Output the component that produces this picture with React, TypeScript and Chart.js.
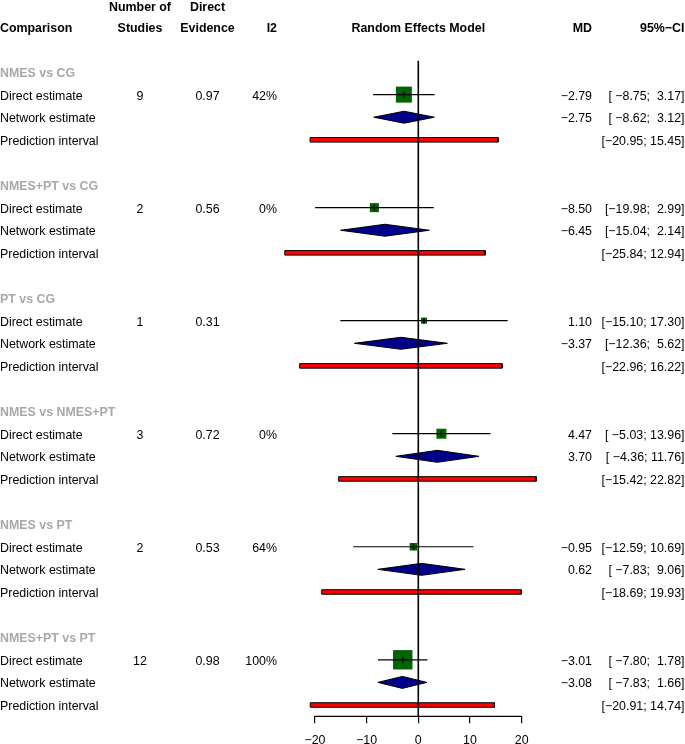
import { useEffect, useRef } from 'react';
import { Chart, registerables } from 'chart.js';

Chart.register(...registerables);

// ---------- data ----------
const comparisons = ['NMES vs CG', 'NMES+PT vs CG', 'PT vs CG', 'NMES vs NMES+PT', 'NMES vs PT', 'NMES+PT vs PT'];
const rowLabels = ['Direct estimate', 'Network estimate', 'Prediction interval'];
const numStudies = ['9', '2', '1', '3', '2', '12'];
const directEvidence = ['0.97', '0.56', '0.31', '0.72', '0.53', '0.98'];
const i2 = ['42%', '0%', '', '0%', '64%', '100%'];
const directMD = [-2.79, -8.5, 1.1, 4.47, -0.95, -3.01];
const directLower = [-8.75, -19.98, -15.1, -5.03, -12.59, -7.8];
const directUpper = [3.17, 2.99, 17.3, 13.96, 10.69, 1.78];
const networkMD = [-2.75, -6.45, -3.37, 3.7, 0.62, -3.08];
const networkLower = [-8.62, -15.04, -12.36, -4.36, -7.83, -7.83];
const networkUpper = [3.12, 2.14, 5.62, 11.76, 9.06, 1.66];
const predLower = [-20.95, -25.84, -22.96, -15.42, -18.69, -20.91];
const predUpper = [15.45, 12.94, 16.22, 22.82, 19.93, 14.74];
const xTicks = [-20, -10, 0, 10, 20];
const refValue = 0;

// ---------- style ----------
const squareSidePx = [16, 9, 6, 10, 7.5, 19.4];
const ROWS_PER_GROUP = 5;
const DIAMOND_HALF = 0.265; // in row units
const PI_HALF = 0.1; // in row units
const FONT_FAMILY = '"Liberation Sans", Arial, Helvetica, sans-serif';
const FONT_SIZE = 12.4;
const TEXT_DY = 1.6;
const GREEN = '#006400';
const NAVY = '#00008B';
const RED = '#FF0000';
const GRAY = '#A8A8A8';

const rowOf = (g: number, k: number) => g * ROWS_PER_GROUP + k;
const lastRow = rowOf(comparisons.length - 1, 3);

const fmt = (v: number) => (v < 0 ? '\u2212' : '') + Math.abs(v).toFixed(2);
const fmtCI = (lo: number, hi: number) => '[' + fmt(lo).padStart(6) + '; ' + fmt(hi).padStart(5) + ']';

const textPlugin = {
  id: 'forestText',
  afterDraw(chart: any) {
    const ctx = chart.ctx as CanvasRenderingContext2D;
    const ys = chart.scales.y;
    const reg = `${FONT_SIZE}px ${FONT_FAMILY}`;
    const bold = `bold ${FONT_SIZE}px ${FONT_FAMILY}`;
    ctx.save();
    ctx.textBaseline = 'middle';
    const put = (t: string, x: number, y: number, align: CanvasTextAlign, font: string, color = '#000') => {
      ctx.font = font;
      ctx.fillStyle = color;
      ctx.textAlign = align;
      ctx.fillText(t, x, y + TEXT_DY);
    };
    const colStudies = 140;
    const colEvid = 207.5;
    const colI2 = 277;
    const colMD = 592;
    const colCI = 684.5;
    const hy = ys.getPixelForValue(-2);
    const hy2 = hy - 21;
    const xs = chart.scales.x;
    put('Comparison', 0, hy, 'left', bold);
    put('Number of', colStudies, hy2, 'center', bold);
    put('Studies', colStudies, hy, 'center', bold);
    put('Direct', colEvid, hy2, 'center', bold);
    put('Evidence', colEvid, hy, 'center', bold);
    put('I2', colI2, hy, 'right', bold);
    put('Random Effects Model', xs.getPixelForValue(refValue), hy, 'center', bold);
    put('MD', colMD, hy, 'right', bold);
    put('95%\u2212CI', colCI, hy, 'right', bold);

    comparisons.forEach((c, g) => {
      put(c, 0, ys.getPixelForValue(rowOf(g, 0)), 'left', bold, GRAY);
      const y1 = ys.getPixelForValue(rowOf(g, 1));
      const y2 = ys.getPixelForValue(rowOf(g, 2));
      const y3 = ys.getPixelForValue(rowOf(g, 3));
      put(rowLabels[0], 0, y1, 'left', reg);
      put(rowLabels[1], 0, y2, 'left', reg);
      put(rowLabels[2], 0, y3, 'left', reg);
      put(numStudies[g], colStudies, y1, 'center', reg);
      put(directEvidence[g], colEvid, y1, 'center', reg);
      if (i2[g]) put(i2[g], colI2, y1, 'right', reg);
      put(fmt(directMD[g]), colMD, y1, 'right', reg);
      put(fmtCI(directLower[g], directUpper[g]), colCI, y1, 'right', reg);
      put(fmt(networkMD[g]), colMD, y2, 'right', reg);
      put(fmtCI(networkLower[g], networkUpper[g]), colCI, y2, 'right', reg);
      put(fmtCI(predLower[g], predUpper[g]), colCI, y3, 'right', reg);
    });
    ctx.restore();
  },
};

export default function App() {
  const ref = useRef<HTMLCanvasElement | null>(null);
  useEffect(() => {
    if (!ref.current) return;
    const datasets: any[] = [];

    // prediction intervals (rectangles)
    comparisons.forEach((_, g) => {
      const r = rowOf(g, 3);
      datasets.push({
        type: 'line',
        data: [
          { x: predLower[g], y: r - PI_HALF },
          { x: predUpper[g], y: r - PI_HALF },
          { x: predUpper[g], y: r + PI_HALF },
          { x: predLower[g], y: r + PI_HALF },
          { x: predLower[g], y: r - PI_HALF },
        ],
        borderColor: '#000',
        borderWidth: 1,
        backgroundColor: RED,
        fill: 'shape',
        pointRadius: 0,
        tension: 0,
        order: 6,
        clip: false,
      });
    });

    // network estimates (diamonds)
    comparisons.forEach((_, g) => {
      const r = rowOf(g, 2);
      datasets.push({
        type: 'line',
        data: [
          { x: networkLower[g], y: r },
          { x: networkMD[g], y: r - DIAMOND_HALF },
          { x: networkUpper[g], y: r },
          { x: networkMD[g], y: r + DIAMOND_HALF },
          { x: networkLower[g], y: r },
        ],
        borderColor: '#000',
        borderWidth: 1,
        backgroundColor: NAVY,
        fill: 'shape',
        pointRadius: 0,
        tension: 0,
        order: 5,
        clip: false,
      });
    });

    // direct estimates squares
    datasets.push({
      type: 'scatter',
      data: directMD.map((v, g) => ({ x: v, y: rowOf(g, 1) })),
      pointStyle: 'rect',
      pointRadius: squareSidePx.map((s) => s / Math.SQRT2),
      pointBackgroundColor: GREEN,
      pointBorderColor: GREEN,
      pointBorderWidth: 0,
      order: 4,
      clip: false,
    });

    // direct CI lines
    comparisons.forEach((_, g) => {
      const r = rowOf(g, 1);
      datasets.push({
        type: 'line',
        data: [
          { x: directLower[g], y: r },
          { x: directUpper[g], y: r },
        ],
        borderColor: '#000',
        borderWidth: 1.2,
        fill: false,
        pointRadius: 0,
        order: 3,
        clip: false,
      });
    });

    // center ticks
    datasets.push({
      type: 'scatter',
      data: directMD.map((v, g) => ({ x: v, y: rowOf(g, 1) })),
      pointStyle: 'line',
      pointRotation: 90,
      pointRadius: 3,
      pointBorderColor: '#000',
      pointBorderWidth: 1.3,
      order: 2,
      clip: false,
    });

    // reference line
    datasets.push({
      type: 'line',
      data: [
        { x: refValue, y: -0.5 },
        { x: refValue, y: lastRow + 0.5 },
      ],
      borderColor: '#000',
      borderWidth: 1.6,
      fill: false,
      pointRadius: 0,
      order: 1,
      clip: false,
    });

    // axis line
    datasets.push({
      type: 'line',
      data: [
        { x: xTicks[0], y: lastRow + 0.5 },
        { x: xTicks[xTicks.length - 1], y: lastRow + 0.5 },
      ],
      borderColor: '#000',
      borderWidth: 1.2,
      fill: false,
      pointRadius: 0,
      order: 0,
      clip: false,
    });

    const chart = new Chart(ref.current, {
      type: 'scatter',
      data: { datasets },
      plugins: [textPlugin],
      options: {
        animation: false,
        responsive: false,
        events: [],
        layout: { padding: { top: 60.7, left: 263.3, right: 111.7, bottom: 0 } },
        plugins: { legend: { display: false }, tooltip: { enabled: false } },
        scales: {
          x: {
            type: 'linear',
            min: -30,
            max: 30,
            afterBuildTicks: (s: any) => {
              s.ticks = xTicks.map((v) => ({ value: v }));
            },
            afterFit: (s: any) => {
              s.height = 27.7;
            },
            ticks: {
              autoSkip: false,
              maxRotation: 0,
              padding: 9.5,
              color: '#000',
              font: { family: FONT_FAMILY, size: FONT_SIZE },
              callback: (v: any) => (Number(v) < 0 ? '\u2212' + Math.abs(Number(v)) : String(v)),
            },
            grid: {
              drawOnChartArea: false,
              drawTicks: true,
              tickLength: 7,
              color: '#000',
              lineWidth: 1.2,
            },
            border: { display: false },
          },
          y: {
            type: 'linear',
            min: -0.5,
            max: lastRow + 0.5,
            reverse: true,
            display: false,
          },
        },
      } as any,
    });
    return () => chart.destroy();
  }, []);

  return (
    <div style={{ position: 'fixed', left: 0, top: 0, width: 685, height: 744, background: '#fff' }}>
      <canvas ref={ref} width={685} height={744} style={{ display: 'block' }} />
    </div>
  );
}
